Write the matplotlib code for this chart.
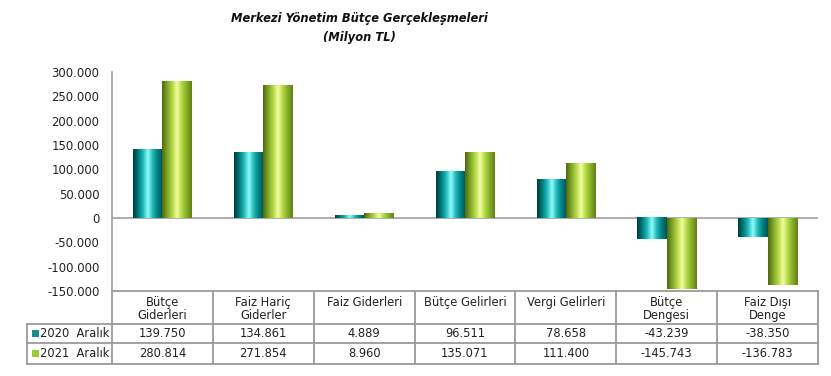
import matplotlib.pyplot as plt
import numpy as np
from matplotlib.colors import LinearSegmentedColormap
from matplotlib.patches import Rectangle
import matplotlib.transforms as mtransforms

categories = ["Bütçe\nGiderleri", "Faiz Hariç\nGiderler", "Faiz Giderleri",
              "Bütçe Gelirleri", "Vergi Gelirleri", "Bütçe\nDengesi", "Faiz Dışı\nDenge"]
series_names = ["2020  Aralık", "2021  Aralık"]
vals_2020 = [139750, 134861, 4889, 96511, 78658, -43239, -38350]
vals_2021 = [280814, 271854, 8960, 135071, 111400, -145743, -136783]
labels_2020 = ["139.750", "134.861", "4.889", "96.511", "78.658", "-43.239", "-38.350"]
labels_2021 = ["280.814", "271.854", "8.960", "135.071", "111.400", "-145.743", "-136.783"]
yticks = [-150000, -100000, -50000, 0, 50000, 100000, 150000, 200000, 250000, 300000]
ytick_labels = ["-150.000", "-100.000", "-50.000", "0", "50.000", "100.000",
                "150.000", "200.000", "250.000", "300.000"]

# cylinder-like shading for each series
teal_cmap = LinearSegmentedColormap.from_list(
    "teal", ["#003c3c", "#007a7a", "#20b8b8", "#90ffff", "#20b4b4", "#008080", "#005454"])
green_cmap = LinearSegmentedColormap.from_list(
    "green", ["#4e6810", "#7fa526", "#b0d646", "#f4ffa0", "#b0d844", "#86ad28", "#627f14"])
solid_cols = ["#1a8f8f", "#9acd32"]

fig = plt.figure(figsize=(8.31, 3.76), dpi=100)
ax = fig.add_axes([112 / 831, 1 - 291 / 376, 706 / 831, 219 / 376])

x = np.arange(len(categories))
w = 0.29
grad = np.linspace(0, 1, 64).reshape(1, -1)
for vals, off, cmap in [(vals_2020, -w / 2, teal_cmap), (vals_2021, w / 2, green_cmap)]:
    bars = ax.bar(x + off, vals, w, color="none", edgecolor="none", zorder=2)
    for b in bars:
        x0, y0 = b.get_x(), b.get_y()
        x1, y1 = x0 + b.get_width(), y0 + b.get_height()
        ax.imshow(grad, cmap=cmap, extent=(x0, x1, min(y0, y1), max(y0, y1)),
                  aspect="auto", zorder=2, interpolation="bicubic")

ax.set_xlim(-0.5, len(categories) - 0.5)
ax.set_ylim(-150000, 300000)
ax.set_yticks(yticks)
ax.set_yticklabels(ytick_labels, fontsize=8.4, color="#222222")
ax.tick_params(axis="y", length=0, pad=9)
ax.set_xticks([])
ax.axhline(0, color="#a0a0a0", lw=1.2, zorder=1)
for s in ["top", "right", "bottom"]:
    ax.spines[s].set_visible(False)
ax.spines["left"].set_color("#a0a0a0")
ax.spines["left"].set_linewidth(1.2)

# data table below the axes (x in data units, y in axes fraction)
trans = mtransforms.blended_transform_factory(ax.transData, ax.transAxes)
ah = 219.0
y_top = 0
y_h1 = -33 / ah
y_r1 = -52 / ah
y_r2 = -73 / ah
xl = -0.5 - 85 / (706 / 7)
xr = len(categories) - 0.5
lc = "#9a9a9a"
kw = dict(transform=trans, clip_on=False, color=lc, lw=1.3)
ax.plot([-0.5, xr], [y_top, y_top], **kw)
for yy in [y_h1, y_r1, y_r2]:
    ax.plot([xl, xr], [yy, yy], **kw)
for xx in np.arange(-0.5, len(categories) + 0.5, 1.0):
    ax.plot([xx, xx], [y_top, y_r2], **kw)
ax.plot([xl, xl], [y_h1, y_r2], **kw)

fs = 8.3
for i, c in enumerate(categories):
    ax.text(i, y_top - 5 / ah, c, transform=trans, ha="center", va="top",
            fontsize=fs, color="#222222", linespacing=1.0)
    ax.text(i, (y_h1 + y_r1) / 2, labels_2020[i], transform=trans, ha="center",
            va="center", fontsize=fs, color="#222222")
    ax.text(i, (y_r1 + y_r2) / 2, labels_2021[i], transform=trans, ha="center",
            va="center", fontsize=fs, color="#222222")

for k, (name, yy) in enumerate([(series_names[0], (y_h1 + y_r1) / 2),
                                (series_names[1], (y_r1 + y_r2) / 2)]):
    ax.add_patch(Rectangle((xl + 0.05, yy - 3.5 / ah), 0.065, 7 / ah, transform=trans,
                           clip_on=False, facecolor=solid_cols[k], edgecolor="none"))
    ax.text(xl + 0.13, yy, name, transform=trans, ha="left", va="center",
            fontsize=fs, color="#222222")

fig.text(359 / 831, 1 - 28 / 376, "Merkezi Yönetim Bütçe Gerçekleşmeleri\n(Milyon TL)",
         ha="center", va="center", fontsize=8.3, fontweight="bold", fontstyle="italic",
         color="#111111", linespacing=1.6)

fig.savefig("out.png", dpi=100)
